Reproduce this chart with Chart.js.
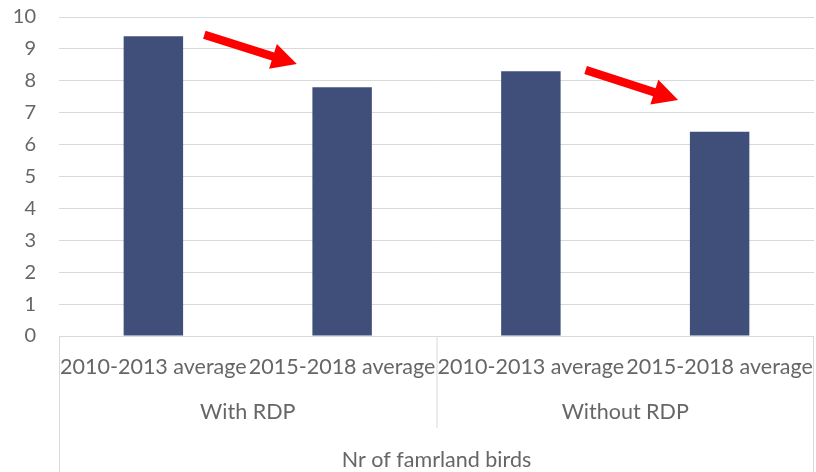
<!DOCTYPE html>
<html><head><meta charset="utf-8">
<script src="https://cdn.jsdelivr.net/npm/chart.js@4/dist/chart.umd.min.js"></script>
<style>html,body{margin:0;padding:0;background:#fff}#wrap{width:816px;height:472px;position:relative}</style>
</head><body><div id="wrap"><canvas id="c" width="816" height="472"></canvas></div>
<script>
const periods = ["2010-2013 average", "2015-2018 average", "2010-2013 average", "2015-2018 average"];
const groups = ["With RDP", "Without RDP"];
const outerLabel = "Nr of famrland birds";
const values = [9.4, 7.8, 8.3, 6.4];
const yTicks = [0,1,2,3,4,5,6,7,8,9,10];
// arrows: [startIndex, startValue] -> [endIndex, endValue]
const arrowStart = [[0.27, 9.44], [2.29, 8.34]];
const arrowEnd = [[0.76, 8.53], [2.78, 7.40]];

const FONT = "Lato, 'Open Sans', sans-serif";
const TXT = "#666666";
const GRID = "#D9D9D9";

const labelsPlugin = {
  id: 'multiLevel',
  afterDraw(chart) {
    const ctx = chart.ctx;
    const x = chart.scales.x, y = chart.scales.y;
    const area = chart.chartArea;
    const bottom = area.bottom;
    const H = chart.height;
    ctx.save();
    ctx.strokeStyle = GRID; ctx.lineWidth = 1;
    const half = (x.getPixelForValue(1) - x.getPixelForValue(0)) / 2;
    const left = x.getPixelForValue(0) - half;
    const mid = x.getPixelForValue(2) - half;
    const right = x.getPixelForValue(3) + half;
    ctx.beginPath();
    ctx.moveTo(left + 0.5, bottom); ctx.lineTo(left + 0.5, H);
    ctx.moveTo(mid + 0.5, bottom); ctx.lineTo(mid + 0.5, bottom + 92);
    ctx.moveTo(right - 0.5, bottom); ctx.lineTo(right - 0.5, H);
    ctx.stroke();
    ctx.fillStyle = TXT;
    ctx.textAlign = 'center'; ctx.textBaseline = 'middle';
    ctx.font = "21.5px " + FONT;
    periods.forEach((p, i) => ctx.fillText(p, x.getPixelForValue(i), bottom + 31));
    groups.forEach((g, i) => {
      const cx = (x.getPixelForValue(i*2) + x.getPixelForValue(i*2+1)) / 2;
      ctx.fillText(g, cx, bottom + 76);
    });
    ctx.fillText(outerLabel, (left + right) / 2, bottom + 124);
    ctx.fillStyle = "#FF0000";
    arrowStart.forEach((s, k) => {
      const e = arrowEnd[k];
      const x0 = x.getPixelForValue(s[0]), y0 = y.getPixelForValue(s[1]);
      const x1 = x.getPixelForValue(e[0]), y1 = y.getPixelForValue(e[1]);
      const ang = Math.atan2(y1 - y0, x1 - x0);
      const len = Math.hypot(x1 - x0, y1 - y0);
      const headL = 25, headW = 13, shaftW = 4.2;
      ctx.save();
      ctx.translate(x0, y0); ctx.rotate(ang);
      ctx.beginPath();
      ctx.moveTo(0, -shaftW);
      ctx.lineTo(len - headL, -shaftW);
      ctx.lineTo(len - headL, -headW);
      ctx.lineTo(len, 0);
      ctx.lineTo(len - headL, headW);
      ctx.lineTo(len - headL, shaftW);
      ctx.lineTo(0, shaftW);
      ctx.closePath();
      ctx.fill();
      ctx.restore();
    });
    ctx.restore();
  }
};

new Chart(document.getElementById('c'), {
  type: 'bar',
  data: {
    labels: periods,
    datasets: [{ data: values, backgroundColor: "#3F4F7A", categoryPercentage: 1, barPercentage: 0.315 }]
  },
  options: {
    responsive: false,
    animation: false,
    layout: { padding: { left: 0, right: 2, top: 17, bottom: 136 } },
    plugins: { legend: { display: false }, tooltip: { enabled: false } },
    scales: {
      x: { display: false },
      y: {
        min: 0, max: 10,
        afterFit(s) { s.width = 59; s.paddingTop = 0; s.paddingBottom = 0; },
        afterBuildTicks(s) { s.ticks = yTicks.map(v => ({ value: v })); },
        border: { display: false },
        grid: { color: GRID, lineWidth: 1, drawTicks: false },
        ticks: { color: TXT, font: { family: FONT, size: 20 }, padding: 23, stepSize: 1 }
      }
    }
  },
  plugins: [labelsPlugin]
});
</script></body></html>
